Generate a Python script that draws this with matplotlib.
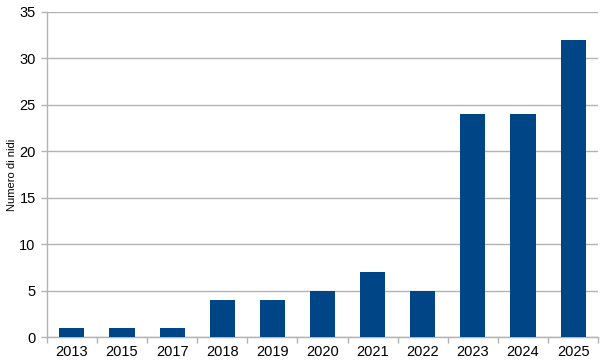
import matplotlib
matplotlib.use("Agg")
import matplotlib.pyplot as plt
import numpy as np

years = ["2013", "2015", "2017", "2018", "2019", "2020", "2021", "2022", "2023", "2024", "2025"]
nests = [1, 1, 1, 4, 4, 5, 7, 5, 24, 24, 32]
yticks = [0, 5, 10, 15, 20, 25, 30, 35]

plt.rcParams['font.family'] = ['Liberation Sans', 'DejaVu Sans']
fig = plt.figure(figsize=(6, 3.62), dpi=100)
ax = fig.add_axes([0.078, 0.069, 0.919, 0.898])

x = np.arange(len(years))
ax.bar(x, nests, width=0.5, color='#004586', zorder=3)
ax.set_xlim(-0.5, len(years) - 0.5)
ax.set_ylim(0, 35)
ax.set_yticks(yticks)
ax.set_yticklabels([str(v) for v in yticks], fontsize=10.5)
ax.yaxis.grid(True, color='#b3b3b3', linewidth=1, zorder=0)

ax.set_xticks(x)
ax.set_xticklabels(years, fontsize=10.5)
ax.set_xticks(np.arange(-0.5, len(years)), minor=True)
ax.tick_params(axis='x', which='major', length=0, pad=6)
ax.tick_params(axis='x', which='minor', length=4, color='#b3b3b3', width=1)
ax.tick_params(axis='y', length=4, color='#b3b3b3', width=1, pad=4)

for s in ['top', 'right']:
    ax.spines[s].set_visible(False)
for s in ['left', 'bottom']:
    ax.spines[s].set_color('#b3b3b3')
    ax.spines[s].set_linewidth(1)

ax.set_ylabel("Numero di nidi", fontsize=8, labelpad=2)

fig.savefig("out.png", dpi=100)
